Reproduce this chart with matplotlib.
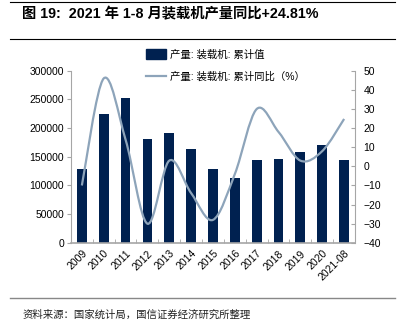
import matplotlib
matplotlib.use('Agg')
import matplotlib.pyplot as plt
from matplotlib.path import Path
from matplotlib.patches import PathPatch, Patch
from matplotlib.lines import Line2D

plt.rcParams['font.family'] = ['Liberation Sans', 'Noto Sans CJK SC']

# data
years = ['2009', '2010', '2011', '2012', '2013', '2014', '2015', '2016',
         '2017', '2018', '2019', '2020', '2021-08']
output = [128500, 224000, 252400, 180300, 191300, 164000, 129000, 112800,
          144200, 146000, 157700, 169900, 144800]
yoy = [-10, 46, 14, -30, 3, -14, -28, -4, 30, 18, 3, 8, 24.81]

bar_color = '#002150'
line_color = '#8DA4BA'
grey = '#A6A6A6'


def smooth_path(xs, ys):
    # Catmull-Rom style bezier, like Excel's smoothed line
    verts = [(xs[0], ys[0])]
    codes = [Path.MOVETO]
    n = len(xs)
    for i in range(n - 1):
        x0, y0 = (xs[i - 1], ys[i - 1]) if i > 0 else (xs[i], ys[i])
        x1, y1 = xs[i], ys[i]
        x2, y2 = xs[i + 1], ys[i + 1]
        x3, y3 = (xs[i + 2], ys[i + 2]) if i + 2 < n else (x2, y2)
        c1 = (x1 + (x2 - x0) / 6, y1 + (y2 - y0) / 6)
        c2 = (x2 - (x3 - x1) / 6, y2 - (y3 - y1) / 6)
        verts += [c1, c2, (x2, y2)]
        codes += [Path.CURVE4] * 3
    return Path(verts, codes)


fig = plt.figure(figsize=(4.03, 3.34), dpi=100)
ax = fig.add_axes([0.176, 0.273, 0.705, 0.515])
x = list(range(len(years)))
ax.bar(x, output, width=0.45, color=bar_color, zorder=2)
ax.set_xlim(-0.5, len(years) - 0.5)
ax.set_ylim(0, 300000)
ax.set_yticks(range(0, 300001, 50000))
ax.set_xticks(x)
ax.set_xticklabels(years, rotation=45, ha='right', rotation_mode='anchor')
ax.set_xticks([i + 0.5 for i in x[:-1]], minor=True)
ax.tick_params(axis='x', which='major', length=0, labelsize=7.5, pad=4)
ax.tick_params(axis='x', which='minor', length=3, direction='in', color=grey)
ax.tick_params(axis='y', labelsize=7.5, length=3, color=grey, pad=2)
for s in ['top', 'right']:
    ax.spines[s].set_visible(False)
for s in ['left', 'bottom']:
    ax.spines[s].set_color(grey)
ax.spines['bottom'].set_linewidth(1.2)

ax2 = ax.twinx()
ax2.set_ylim(-40, 50)
ax2.set_yticks(range(-40, 51, 10))
ax2.tick_params(axis='y', labelsize=7.5, length=3, direction='in', color=grey, pad=6)
for s in ['top', 'left', 'bottom']:
    ax2.spines[s].set_visible(False)
ax2.spines['right'].set_color(grey)
ax2.add_patch(PathPatch(smooth_path(x, yoy), facecolor='none',
                        edgecolor=line_color, lw=1.6, zorder=3))

handles = [Patch(color=bar_color), Line2D([], [], color=line_color, lw=1.6)]
labels = ['产量: 装载机: 累计值', '产量: 装载机: 累计同比（%）']
fig.legend(handles, labels, loc='upper left', bbox_to_anchor=(0.34, 0.88),
           frameon=False, fontsize=7.5, handlelength=1.9, handleheight=1.0,
           labelspacing=1.15, handletextpad=0.4)

# title block and source
fig.add_artist(Line2D([0.025, 0.98], [0.995, 0.995], color='black', lw=0.8))
fig.add_artist(Line2D([0.025, 0.98], [0.883, 0.883], color='black', lw=0.8))
fig.text(0.055, 0.958, '图 19:  2021 年 1-8 月装载机产量同比+24.81%',
         fontsize=10.3, fontweight='bold', va='center', ha='left')
fig.add_artist(Line2D([0.025, 0.98], [0.109, 0.109], color='#888888', lw=1.0))
fig.text(0.055, 0.057, '资料来源：国家统计局，国信证券经济研究所整理',
         fontsize=7.5, va='center', ha='left', color='#222222')

fig.savefig('out.png', dpi=100)
